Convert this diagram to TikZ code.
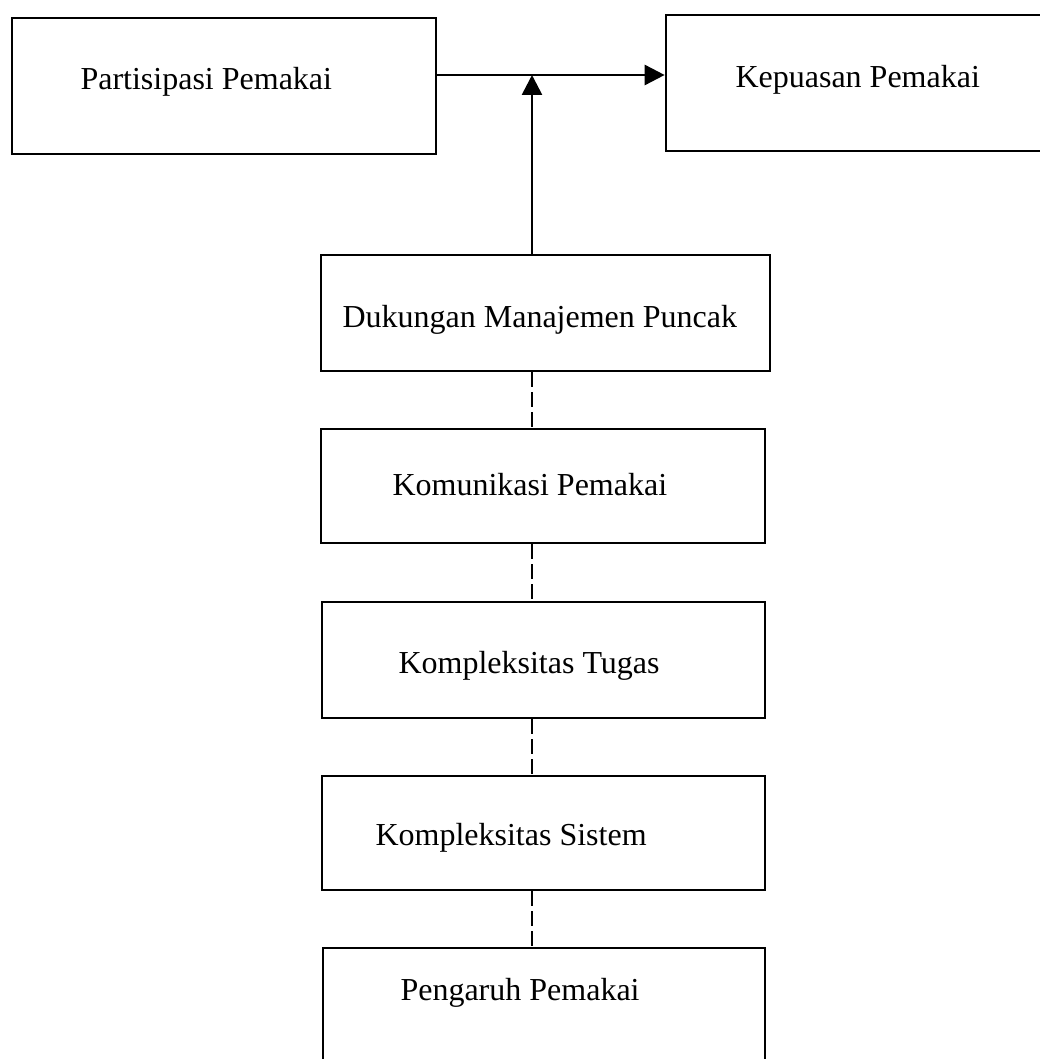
\documentclass[tikz,border=0pt]{standalone}
\usepackage{fontspec}
\setmainfont{Liberation Serif}
\usepackage{tikz}
\usetikzlibrary{arrows.meta,positioning}

\newcommand{\px}{0.375pt}

\begin{document}
\begin{tikzpicture}[
    x=\px, y=-\px,
    box/.style 2 args={draw, line width=1pt, inner sep=0pt, minimum width=#1*\px, minimum height=#2*\px},
    lbl/.style={anchor=base west, inner sep=0pt, font=\fontsize{12}{14}\selectfont},
    arr/.style={-{Triangle[length=7.5pt, width=7.5pt]}, line width=1pt},
    link/.style={line width=0.8pt, dash pattern=on 5.6pt off 1.9pt}
]
\useasboundingbox (0,0) rectangle (1040,1059);

% boxes
\node[box={424}{136}] (partisipasi) at (224,86) {};
\node[box={380}{136}] (kepuasan) at (856,83) {};
\node[box={449}{116}] (dukungan) at (545.5,313) {};
\node[box={444}{114}] (komunikasi) at (543,486) {};
\node[box={443}{116}] (tugas) at (543.5,660) {};
\node[box={443}{114}] (sistem) at (543.5,833) {};
\node[box={442}{122}] (pengaruh) at (544,1009) {};

% texts
\node[lbl] (partisipasi-t) at (80,90) {Partisipasi Pemakai};
\node[lbl] (kepuasan-t) at (735,88) {Kepuasan Pemakai};
\node[lbl] (dukungan-t) at (342,327) {Dukungan Manajemen Puncak};
\node[lbl] (komunikasi-t) at (392,495) {Komunikasi Pemakai};
\node[lbl] (tugas-t) at (398,673) {Kompleksitas Tugas};
\node[lbl] (sistem-t) at (375,845) {Kompleksitas Sistem};
\node[lbl] (pengaruh-t) at (400,1000) {Pengaruh Pemakai};

\coordinate (join) at (532,75);

\draw[arr] (partisipasi.east |- join) -- (kepuasan.west |- join);
\draw[arr] (dukungan.north -| join) -- (join);

\draw[link] (dukungan.south -| join) -- (komunikasi.north -| join);
\draw[link] (komunikasi.south -| join) -- (tugas.north -| join);
\draw[link] (tugas.south -| join) -- (sistem.north -| join);
\draw[link] (sistem.south -| join) -- (pengaruh.north -| join);
\end{tikzpicture}
\end{document}
